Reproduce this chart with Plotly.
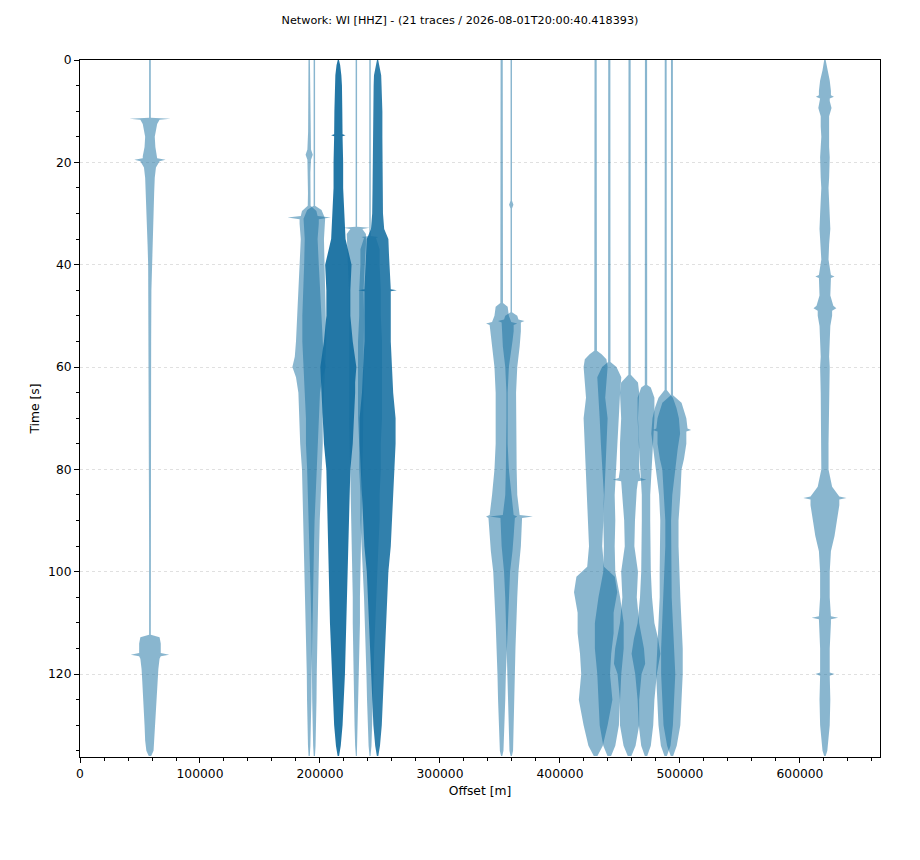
import plotly.graph_objects as go

TITLE = "Network: WI [HHZ] - (21 traces / 2026-08-01T20:00:40.418393)"

# Trace offsets [m] (16 visible positions, 21 traces; co-located traces counted)
OFFSETS = [58300, 191000, 195300, 215300, 230300, 241700, 248000,
           351400, 359400, 429700, 441100, 458000, 471700, 488100, 493300, 620800]
COUNTS = [1, 1, 1, 4, 1, 1, 3, 1, 1, 1, 1, 1, 1, 1, 1, 1]

# Envelope (half-width in metres of plotted wiggle), per trace
t_058 = [0, 11.3, 11.5, 11.7, 12.5, 15, 17, 18.8, 19.2, 19.5, 19.8, 21, 23, 26, 30, 33, 36, 40, 45, 55, 65, 80,
         95, 112.3, 112.8, 114, 115.9, 116.2, 116.5, 117, 119, 121, 123, 125, 127, 130, 133, 135, 136]
w_058 = [700, 700, 17000, 8000, 6000, 4000, 4500, 6000, 6000, 13000, 8000, 5000, 4000, 3500, 3000, 2500, 2000,
         1500, 1200, 1000, 900, 800, 700, 700, 8000, 9000, 9000, 16000, 9000, 8000, 7000, 6500, 6000, 5500, 5000,
         4500, 4000, 3000, 1000]

t_191 = [0, 8, 14, 17.5, 18.5, 19.5, 22, 26, 28.5, 29.5, 30.5, 30.8, 31.1, 32, 35, 40, 45, 50, 55, 58, 60, 62,
         65, 70, 75, 80, 85, 90, 95, 100, 105, 110, 115, 120, 125, 130, 134, 136]
w_191 = [600, 800, 900, 1500, 3000, 1500, 1000, 1000, 1200, 6000, 7000, 18000, 8000, 8000, 7000, 8000, 9000,
         10000, 11000, 12000, 14000, 11000, 9000, 8000, 7500, 6000, 5000, 4500, 4000, 3500, 3000, 2500, 2500,
         2000, 1800, 1500, 1000, 500]

t_195 = [0, 28.5, 29.3, 31, 35, 40, 45, 50, 55, 60, 65, 70, 75, 80, 85, 90, 95, 100, 105, 110, 115, 120, 125,
         130, 134, 136]
w_195 = [600, 600, 6000, 9000, 8000, 8500, 9000, 10000, 10000, 9000, 8000, 7000, 7000, 6000, 5000, 4500, 4000,
         3500, 3000, 2500, 2000, 2000, 1800, 1500, 1000, 500]

t_215 = [0, 1, 3, 5, 10, 14.5, 14.7, 14.9, 20, 25, 30, 35, 38, 40, 45, 50, 55, 60, 63, 65, 70, 75, 80, 85, 90,
         95, 100, 105, 110, 115, 120, 125, 130, 134, 136]
w_215 = [500, 1500, 2500, 3000, 3300, 3500, 6000, 3500, 4000, 4000, 5000, 6000, 9000, 11000, 10000, 10000,
         12000, 15000, 14000, 14000, 13000, 12000, 10000, 9500, 9000, 8500, 8000, 7500, 7000, 6000, 5500, 4500,
         3500, 2000, 600]

t_230 = [0, 32.6, 32.8, 33.0, 34, 36, 40, 45, 50, 55, 60, 65, 70, 75, 80, 85, 90, 95, 100, 105, 110, 115, 120,
         125, 130, 134, 136]
w_230 = [600, 600, 11000, 5000, 8000, 8000, 7000, 6000, 6500, 6000, 6000, 6000, 6000, 5500, 5000, 4500, 4000,
         4000, 3500, 3000, 3000, 2500, 2000, 2000, 1500, 1000, 400]

t_242 = [0, 34.4, 34.6, 34.8, 37, 40, 45, 50, 55, 60, 65, 70, 75, 80, 85, 90, 95, 100, 105, 110, 115, 120, 125,
         130, 134, 136]
w_242 = [600, 600, 7000, 5000, 8000, 8000, 9000, 9000, 10000, 10000, 10000, 10000, 9000, 9000, 8000, 8000,
         7000, 6000, 5000, 4500, 3500, 3000, 2500, 2000, 1200, 400]

t_248 = [0, 1, 3, 5, 10, 15, 20, 25, 30, 33, 35, 38, 40, 44.8, 45, 45.2, 50, 55, 60, 65, 70, 75, 80, 85, 90,
         95, 100, 105, 110, 115, 120, 125, 130, 134, 136]
w_248 = [500, 1500, 3000, 3300, 4000, 4000, 4000, 4200, 4500, 5500, 9000, 9500, 10000, 11000, 16000, 11000,
         11000, 11000, 12000, 13000, 15000, 15000, 14000, 13000, 12000, 11000, 9000, 8000, 7000, 6000, 5000,
         4500, 3500, 2000, 600]

t_351 = [0, 10, 20, 30, 40, 47.5, 48.2, 50, 51.2, 51.5, 51.8, 53, 55, 58, 60, 65, 70, 75, 80, 85, 88.9, 89.2,
         89.5, 93, 96, 100, 105, 110, 115, 120, 125, 130, 135, 136]
w_351 = [900, 1000, 1100, 1000, 1100, 1100, 5000, 6000, 8000, 13000, 10000, 10000, 9000, 7000, 6000, 5000,
         5000, 5000, 6000, 8000, 10000, 13000, 11000, 10000, 9000, 7000, 6000, 5000, 4000, 3500, 3000, 2500,
         1500, 500]

t_359 = [0, 27.5, 28.3, 29, 49.3, 50, 50.7, 51, 51.3, 53, 56, 60, 65, 70, 75, 80, 85, 88.9, 89.2, 89.5, 95,
         100, 105, 110, 115, 120, 125, 130, 135, 136]
w_359 = [600, 600, 1800, 600, 600, 5000, 6000, 11000, 8000, 8000, 7000, 5000, 4000, 4000, 4000, 4500, 5000,
         7000, 18000, 9000, 8000, 6000, 5000, 4000, 3500, 3000, 2500, 2000, 1500, 500]

t_430 = [0, 10, 20, 30, 40, 50, 56.8, 57.5, 58.5, 60, 63, 66, 70, 75, 80, 85, 90, 95, 99, 101, 104, 108, 112,
         116, 120, 125, 130, 134, 136]
w_430 = [900, 1000, 1100, 1100, 1000, 1100, 1100, 5000, 9000, 10000, 9000, 8000, 10000, 9000, 8000, 7000,
         6500, 5500, 7000, 16000, 18000, 15000, 15000, 13000, 12000, 14000, 10000, 6000, 1500]

t_441 = [0, 10, 20, 30, 40, 50, 59, 60, 62, 65, 70, 75, 80, 85, 90, 95, 100, 105, 110, 115, 120, 125, 130,
         134, 136]
w_441 = [900, 1000, 1000, 1000, 1000, 1000, 1000, 6000, 10000, 9000, 8000, 7000, 6000, 4500, 5000, 4500,
         5000, 9000, 12000, 12000, 10000, 9000, 8000, 5000, 1500]

t_458 = [0, 10, 20, 30, 40, 50, 61.5, 63, 65, 70, 75, 80, 81.7, 82, 82.3, 84, 90, 95, 100, 105, 110, 115, 118,
         120, 125, 130, 134, 136]
w_458 = [900, 1000, 1000, 1000, 1000, 1000, 1000, 7000, 8000, 7000, 8000, 8000, 9000, 14000, 7000, 6000, 4500,
         4000, 7000, 6000, 8000, 12000, 13000, 10000, 8000, 8000, 5000, 1500]

t_472 = [0, 10, 20, 30, 40, 50, 60, 63.5, 64, 66, 70, 75, 80, 85, 90, 95, 100, 105, 110, 113, 116, 120, 125,
         130, 134, 136]
w_472 = [900, 1000, 1000, 1000, 1000, 1000, 1000, 1000, 4000, 7000, 7000, 6000, 5000, 3500, 3500, 3500, 4000,
         5000, 7000, 10000, 12000, 9000, 7000, 6000, 4000, 1000]

t_488 = [0, 10, 20, 30, 40, 50, 60, 64.5, 66, 68, 70, 73, 76, 80, 85, 90, 95, 100, 105, 110, 115, 120, 125,
         130, 134, 136]
w_488 = [800, 900, 900, 900, 900, 900, 900, 900, 6000, 9000, 11000, 12000, 10000, 8000, 5500, 4500, 4500,
         5000, 5000, 6000, 7000, 8000, 7000, 6000, 4000, 1000]

t_493 = [0, 10, 20, 30, 40, 50, 60, 65.5, 67, 70, 72, 72.3, 72.6, 75, 78, 80, 85, 90, 95, 100, 105, 110, 115,
         120, 125, 130, 134, 136]
w_493 = [800, 900, 900, 900, 900, 900, 900, 900, 8000, 12000, 13000, 16000, 12000, 12000, 10000, 8000, 7000,
         5500, 5500, 6000, 7000, 8000, 9000, 9000, 8000, 7000, 4000, 1000]

t_621 = [0, 1, 2, 4, 6, 6.9, 7.2, 7.5, 8, 9.4, 11, 13, 15, 17, 19, 21, 23, 25, 28, 30, 33, 36, 39, 42, 42.3,
         42.6, 44, 46, 48, 48.5, 49, 50, 52, 55, 58, 60, 65, 70, 75, 80, 83.4, 85.3, 85.6, 85.9, 87, 90, 93, 96,
         100, 105, 108.7, 109, 109.3, 110, 115, 119.7, 120, 120.3, 125, 130, 133, 135, 136]
w_621 = [600, 1500, 2000, 4000, 5000, 5000, 7500, 4000, 4000, 5500, 3500, 3500, 3000, 3500, 4000, 4000, 3500,
         3000, 3500, 4000, 4500, 3500, 3000, 5000, 8000, 5000, 5000, 4500, 7000, 9500, 6000, 6000, 4500, 4000,
         3500, 4000, 3500, 3500, 3000, 3000, 6000, 12000, 18000, 12000, 12000, 10000, 8000, 5000, 4000, 4000,
         5000, 11000, 5000, 5000, 4000, 4000, 8000, 4000, 4500, 4000, 3000, 2000, 600]

TIMES = [t_058, t_191, t_195, t_215, t_230, t_242, t_248, t_351, t_359,
         t_430, t_441, t_458, t_472, t_488, t_493, t_621]
WIDTHS = [w_058, w_191, w_195, w_215, w_230, w_242, w_248, w_351, w_359,
          w_430, w_441, w_458, w_472, w_488, w_493, w_621]

X_TICKS = [0, 100000, 200000, 300000, 400000, 500000, 600000]
Y_TICKS = [0, 20, 40, 60, 80, 100, 120]

BASE_RGB = (20, 110, 160)
ALPHA = 0.5
FONT = "DejaVu Sans"

fig = go.Figure()
for off, cnt, ts, ws in zip(OFFSETS, COUNTS, TIMES, WIDTHS):
    a = 1 - (1 - ALPHA) ** cnt
    xs = [off + w for w in ws] + [off - w for w in reversed(ws)]
    ys = list(ts) + list(reversed(ts))
    fig.add_trace(go.Scatter(
        x=xs, y=ys, mode="lines", fill="toself",
        fillcolor=f"rgba({BASE_RGB[0]},{BASE_RGB[1]},{BASE_RGB[2]},{a:.3f})",
        line=dict(width=0), hoverinfo="skip", showlegend=False))

fig.update_layout(
    width=920, height=860,
    paper_bgcolor="white", plot_bgcolor="white",
    margin=dict(l=72, r=48, t=52, b=111),
    font=dict(family=FONT, size=12.3, color="black"),
    title=dict(text=TITLE, x=0.5 - 8 / 920, xanchor="center", xref="container",
               y=1 - 12 / 860, yref="container", yanchor="middle",
               font=dict(family=FONT, size=11.2, color="black")),
    showlegend=False,
)
fig.update_xaxes(
    range=[0, 666700], tickvals=X_TICKS, ticktext=[str(v) for v in X_TICKS],
    ticks="outside", ticklen=5, tickcolor="black", tickwidth=1,
    minor=dict(dtick=20000, tick0=0, ticks="outside", ticklen=3, tickcolor="black", showgrid=False),
    showline=True, linecolor="black", linewidth=1, mirror=True,
    showgrid=False, zeroline=False,
    title=dict(text="Offset [m]", standoff=6, font=dict(size=12.3)),
)
fig.update_yaxes(
    range=[136.2, 0], tickvals=Y_TICKS,
    ticks="outside", ticklen=5, tickcolor="black", tickwidth=1,
    minor=dict(dtick=5, tick0=0, ticks="outside", ticklen=3, tickcolor="black", showgrid=False),
    showline=True, linecolor="black", linewidth=1, mirror=True,
    showgrid=True, gridcolor="rgba(0,0,0,0.12)", griddash="dot", gridwidth=1,
    zeroline=False,
    title=dict(text="Time [s]", standoff=5, font=dict(size=12.3)),
)

fig.write_html("out.html")
